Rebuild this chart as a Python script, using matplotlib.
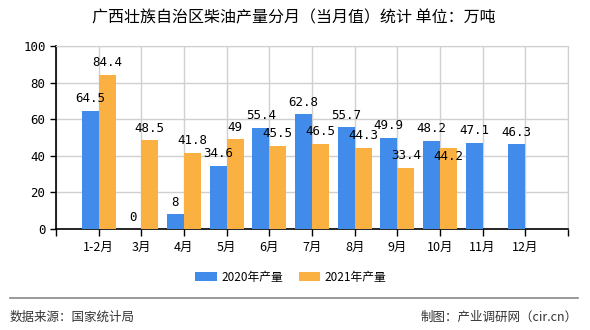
import matplotlib.pyplot as plt
import numpy as np

plt.rcParams['font.family'] = ['Noto Sans CJK SC', 'DejaVu Sans']

# Data
months = ['1-2月', '3月', '4月', '5月', '6月', '7月', '8月', '9月', '10月', '11月', '12月']
output_2020 = [64.5, 0, 8, 34.6, 55.4, 62.8, 55.7, 49.9, 48.2, 47.1, 46.3]
output_2021 = [84.4, 48.5, 41.8, 49, 45.5, 46.5, 44.3, 33.4, 44.2]
series_names = ['2020年产量', '2021年产量']

blue = '#418BEA'
orange = '#FBB142'

fig = plt.figure(figsize=(5.9, 3.3), dpi=100)
ax = fig.add_axes([56 / 590, 1 - 229 / 330, 512 / 590, 183 / 330])

x = np.arange(len(months))
w = 0.4
b1 = ax.bar(x[:len(output_2020)] - w / 2, output_2020, w, color=blue, zorder=3)
b2 = ax.bar(x[:len(output_2021)] + w / 2, output_2021, w, color=orange, zorder=3)

# value labels; a label that would clash with its neighbour drops into the bar
for i, (r, v) in enumerate(zip(b1, output_2020)):
    ax.text(r.get_x() + r.get_width() / 2, v + 3, f'{v:g}',
            ha='center', va='bottom', fontsize=9, family='DejaVu Sans Mono', zorder=4)
for i, (r, v) in enumerate(zip(b2, output_2021)):
    y = v + 3
    if i < len(output_2020) and abs(output_2020[i] - v) < 5 and v < output_2020[i]:
        y = v - 8
    ax.text(r.get_x() + r.get_width() / 2, y, f'{v:g}',
            ha='center', va='bottom', fontsize=9, family='DejaVu Sans Mono', zorder=4)

ax.set_xlim(-1, len(months))
ax.set_ylim(0, 100)
ax.set_yticks(range(0, 101, 20))
ax.set_xticks(np.arange(-1, len(months) + 1))
ax.set_xticklabels([''] + months + [''], fontsize=9)
ax.tick_params(axis='y', labelsize=9, length=4, width=1)
ax.tick_params(axis='x', length=5, width=1)
for lab in ax.get_yticklabels():
    lab.set_family('DejaVu Sans Mono')
ax.grid(True, color='#d0d0d0', linewidth=1, zorder=0)
ax.spines['top'].set_color('#d0d0d0')
ax.spines['right'].set_color('#d0d0d0')
ax.spines['left'].set_linewidth(1.2)
ax.spines['bottom'].set_linewidth(1.2)

fig.text(294 / 590, 1 - 18 / 330, '广西壮族自治区柴油产量分月（当月值）统计 单位：万吨',
         ha='center', va='center', fontsize=11.5)

leg = fig.legend([b1, b2], series_names, loc='center', bbox_to_anchor=(291 / 590, 1 - 277 / 330),
                 ncol=2, frameon=False, fontsize=8.5, handlelength=1.8, handleheight=0.7,
                 columnspacing=1.35, handletextpad=0.4)

fig.add_artist(plt.Line2D([10 / 590, 578 / 590], [1 - 298 / 330] * 2, color='#888888', linewidth=1.2))
fig.text(10 / 590, 1 - 317 / 330, '数据来源：国家统计局', ha='left', va='center', fontsize=9, color='#333333')
fig.text(578 / 590, 1 - 317 / 330, '制图：产业调研网（cir.cn）', ha='right', va='center', fontsize=9, color='#333333')

plt.savefig('out.png', dpi=100)
